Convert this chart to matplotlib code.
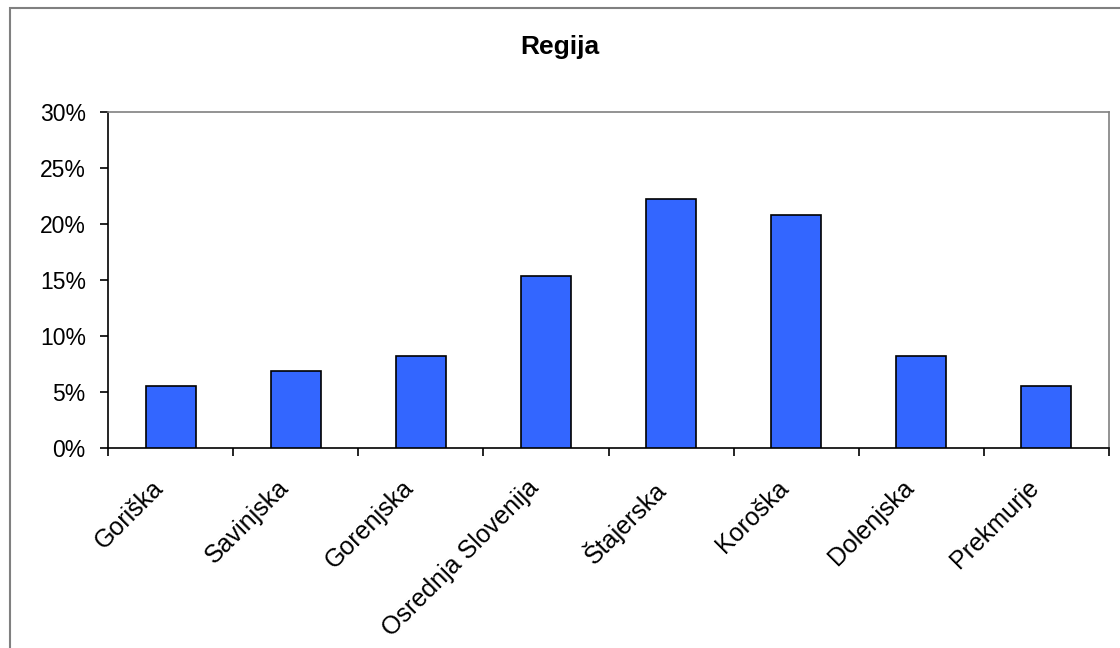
import matplotlib.pyplot as plt
from matplotlib.patches import Rectangle
from matplotlib.ticker import FuncFormatter, MultipleLocator
from matplotlib.transforms import ScaledTranslation, blended_transform_factory
import numpy as np

plt.rcParams['font.family'] = ['Liberation Sans', 'DejaVu Sans']

regions = ['Goriška', 'Savinjska', 'Gorenjska', 'Osrednja Slovenija',
           'Štajerska', 'Koroška', 'Dolenjska', 'Prekmurje']
shares = [0.055, 0.069, 0.082, 0.154, 0.222, 0.208, 0.082, 0.055]

fig = plt.figure(figsize=(11.2, 6.48), dpi=100)
ax = fig.add_axes([108 / 1120, 1 - 448 / 648, (1109 - 108) / 1120, (448 - 112) / 648])

# outer chart border (cut off at right and bottom like the original)
fig.patches.append(Rectangle((10 / 1120, -0.1), 1.2, 1 - 8 / 648 + 0.1,
                             transform=fig.transFigure, fill=False,
                             edgecolor='#808080', linewidth=1.5))

x = np.arange(len(regions))
ax.bar(x, shares, width=0.4, color='#3366FF', edgecolor='black', linewidth=1.2, zorder=3)

ax.set_xlim(-0.5, len(regions) - 0.5)
ax.set_ylim(0, 0.30)
ax.yaxis.set_major_locator(MultipleLocator(0.05))
ax.yaxis.set_major_formatter(FuncFormatter(lambda v, _: f'{v * 100:.0f}%'))

# ticks sit between categories
ax.set_xticks(np.arange(len(regions) + 1) - 0.5)
ax.set_xticklabels([])
ax.tick_params(axis='x', direction='out', length=6, width=1.2)
ax.tick_params(axis='y', direction='out', length=6, width=1.2, labelsize=16.5, pad=10)

# category names under the bars, rotated like Excel does it
trans = blended_transform_factory(ax.transData, ax.transAxes) + \
    ScaledTranslation(-14 / 72, -20 / 72, fig.dpi_scale_trans)
for xi, name in zip(x, regions):
    ax.text(xi, 0, name, transform=trans, rotation=45, ha='right', va='top',
            rotation_mode='anchor', fontsize=18, clip_on=False)

for side in ['left', 'bottom']:
    ax.spines[side].set_color('black')
    ax.spines[side].set_linewidth(1.2)
for side in ['top', 'right']:
    ax.spines[side].set_color('#808080')
    ax.spines[side].set_linewidth(1.2)

fig.text(0.5, 1 - 47 / 648, 'Regija', ha='center', va='center',
         fontsize=19, fontweight='bold')

fig.savefig('out.png', dpi=100)
